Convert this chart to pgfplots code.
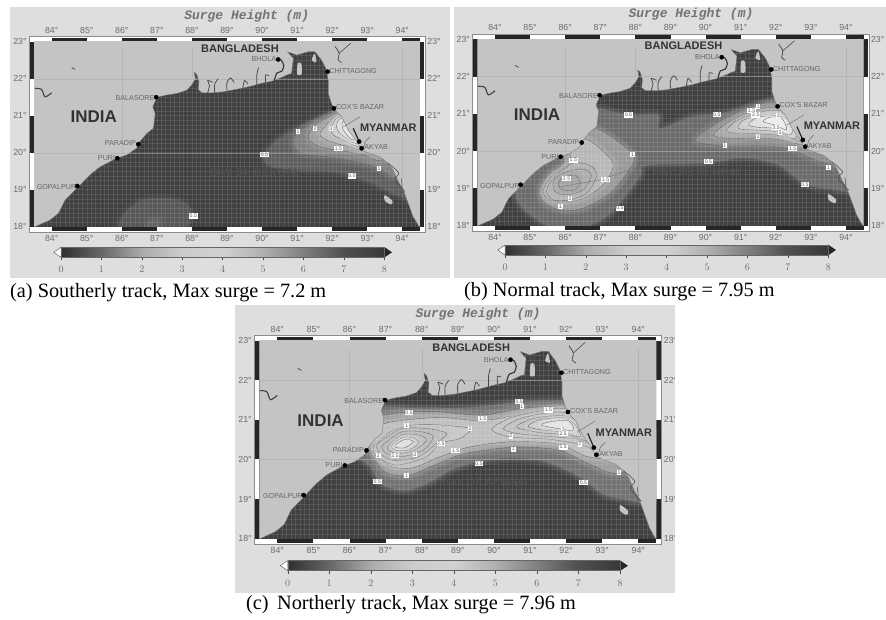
\documentclass[border=0pt]{standalone}
\usepackage{pgfplots}
\pgfplotsset{compat=1.18}
\usepackage{pgfplotstable}
\usepackage{fontspec}
\setmainfont{Liberation Sans}
\newfontfamily\capfont{Liberation Serif}
\newfontfamily\monof{Liberation Mono}
\definecolor{panelbg}{gray}{.87}
\definecolor{land}{gray}{.77}
\definecolor{sea}{gray}{.25}
\definecolor{ticktxt}{gray}{.42}
\definecolor{citytxt}{gray}{.40}
\pgfplotstableread{
x y
83.52 18.00
83.95 18.18
84.19 18.36
84.38 18.72
84.76 19.08
85.09 19.40
85.38 19.62
85.85 19.85
86.14 19.94
86.42 20.12
86.47 20.25
86.71 20.52
86.90 20.66
86.95 21.06
86.88 21.24
87.00 21.50
87.28 21.56
87.56 21.60
87.85 21.69
87.99 21.83
88.10 22.00
88.06 22.18
88.14 22.12
88.20 21.92
88.18 21.70
88.30 21.62
88.60 21.62
88.90 21.65
89.30 21.72
89.60 21.78
90.00 21.88
90.30 21.94
90.59 22.05
90.75 22.12
90.84 22.14
90.89 22.55
90.72 22.73
90.99 22.64
91.32 22.73
91.51 22.73
91.70 22.50
91.82 22.28
91.89 21.96
91.89 21.60
91.98 21.33
92.08 21.15
92.27 20.97
92.46 20.61
92.70 20.30
92.84 20.07
93.08 19.98
93.36 19.89
93.60 19.71
93.74 19.53
93.89 19.22
94.03 18.99
94.17 18.63
94.31 18.27
94.48 18.00
94.60 18.00
94.60 23.10
83.40 23.10
83.40 18.00
}\coast
\newcommand\band[2]{%
 \addplot[smooth cycle,draw=white!#1!black,line width=9pt,draw opacity=.22,line join=round] coordinates {#2};
 \addplot[smooth cycle,draw=white!#1!black,line width=4.5pt,draw opacity=.3,line join=round] coordinates {#2};
 \addplot[smooth cycle,fill=white!#1!black,draw=black!62,line width=.35pt] coordinates {#2};
}
\newcommand\lab[3]{\node[fill=white,inner sep=.7pt,font=\fontsize{5.2}{6}\selectfont,text=black!70] at (axis cs:#1,#2) {#3};}
\newcommand\city[4]{\node[anchor=#4,inner sep=.5pt,font=\fontsize{7.2}{8}\selectfont,text=citytxt] at (axis cs:#1,#2) {#3};}
\newcommand\inlet[1]{\addplot[black!72,line width=.75pt,smooth] coordinates {#1};}
\pgfplotsset{mapbase/.style={scale only axis,anchor=south west,xmin=83.5,xmax=94.5,ymin=18,ymax=23,
 xtick={84,...,94},ytick={18,...,23},
 xticklabel={\pgfmathparse{int(\tick)}\pgfmathresult\textdegree},
 yticklabel={\pgfmathparse{int(\tick)}\pgfmathresult\textdegree},
 tick style={draw=none},axis line style={draw=none},major tick length=0pt,
 tick label style={font=\fontsize{8.8}{9}\selectfont,text=ticktxt},
 xticklabel shift=5pt,yticklabel shift=4pt}}
\newcommand\common{%
 \pgfplotsinvokeforeach{83.625,83.75,...,94.5}{\draw[white,opacity=.10,line width=.45pt] (axis cs:##1,18)--(axis cs:##1,23);}
 \pgfplotsinvokeforeach{18.125,18.25,...,22.9}{\draw[white,opacity=.10,line width=.45pt] (axis cs:83.5,##1)--(axis cs:94.5,##1);}
 \node[font=\bfseries\fontsize{11}{12}\selectfont,text=white!31!black] at (axis cs:89.8,19.45) {BAY OF BENGAL};
 \addplot[fill=land,draw=black!55,line width=.3pt] table[x=x,y=y] {\coast} -- cycle;
 \addplot[fill=land,draw=none,smooth cycle] coordinates {(91.0,22.12)(91.13,22.12)(91.12,22.4)(91.02,22.42)};
 \addplot[fill=land,draw=none,smooth cycle] coordinates {(91.42,22.5)(91.55,22.45)(91.5,22.68)};
 \addplot[fill=land,draw=none,smooth cycle] coordinates {(93.5,18.85)(93.72,18.7)(93.68,18.6)(93.5,18.7)};
 % graticule
 \addplot[gray!65,line width=.25pt,opacity=.6] coordinates {(83.5,22)(94.5,22)};
 \addplot[gray!65,line width=.25pt,opacity=.6] coordinates {(83.5,20)(94.5,20)};
 \addplot[gray!65,line width=.25pt,opacity=.6] coordinates {(86,20)(86,22.8)};
 \addplot[gray!65,line width=.25pt,opacity=.6] coordinates {(88,22)(88,22.8)};
 \addplot[gray!65,line width=.25pt,opacity=.6] coordinates {(94,19)(94,22.8)};
 % inlets of the delta
 \inlet{(88.45,21.62)(88.5,21.82)(88.45,21.95)(88.6,21.9)}
 \inlet{(88.65,21.62)(88.65,21.85)(88.75,22)}
 \inlet{(89,21.68)(89,21.9)(89.1,22.02)(89.2,21.9)}
 \inlet{(89.45,21.74)(89.5,21.95)(89.6,21.85)}
 \inlet{(89.85,21.84)(89.85,22.1)(89.9,22.3)}
 \inlet{(90.1,21.9)(90.1,22.1)(90.2,22.08)}
 \addplot[black!80,line width=1.1pt,smooth] coordinates {(90.35,21.95)(90.42,22.15)(90.56,22.2)(90.62,22.35)(90.55,22.5)(90.46,22.52)};
 % rivers and lakes
 \addplot[black!75,line width=1.1pt,smooth] coordinates {(83.52,21.74)(83.71,21.71)(83.81,21.51)(84,21.62)};
 \addplot[black!75,line width=.7pt] coordinates {(84.57,22.3)(84.67,22.25)};
 \addplot[black!70,line width=.8pt,smooth] coordinates {(92.08,22.87)(92.2,22.69)(92.17,22.51)(92.27,22.44)};
 \addplot[black!70,line width=.6pt] coordinates {(92.2,22.69)(92.36,22.82)(92.53,22.96)};
 \addplot[black!60,line width=.4pt] coordinates {(92.32,20.7)(92.8,20.97)};
 \addplot[black!85,line width=1.2pt] coordinates {(92.6,20.66)(92.77,20.3)};
 \addplot[black!60,line width=.5pt,smooth] coordinates {(93.08,20.43)(92.95,20.3)(92.89,20.12)};
 \addplot[black!70,line width=.6pt,smooth] coordinates {(93.6,19.71)(93.9,19.45)(93.78,19.27)(94.08,18.95)};
 \addplot[black!70,line width=.5pt,smooth] coordinates {(93.97,19.3)(94.0,19.0)(93.95,18.85)};
 % towns
 \addplot[only marks,mark=*,mark size=2.1pt,black] coordinates {(90.46,22.52)(91.87,22.19)(92.05,21.2)(92.84,20.12)(92.77,20.3)(86.98,21.5)(86.47,20.23)(85.87,19.85)(84.73,19.1)};
 \city{86.95}{21.47}{BALASORE}{east}
 \city{86.42}{20.25}{PARADIP}{east}
 \city{85.83}{19.85}{PURI}{east}
 \city{84.72}{19.07}{GOPALPUR}{east}
 \city{90.42}{22.52}{BHOLA}{east}
 \city{91.9}{22.2}{CHITTAGONG}{west}
 \city{92.09}{21.23}{COX'S BAZAR}{west}
 \city{92.9}{20.14}{AKYAB}{west}
 \node[font=\bfseries\fontsize{11}{12}\selectfont,text=black!80] at (axis cs:89.37,22.82) {BANGLADESH};
 \node[font=\bfseries\fontsize{17}{18}\selectfont,text=black!80] at (axis cs:85.2,20.97) {INDIA};
 \node[font=\bfseries\fontsize{11}{12}\selectfont,text=black!80] at (axis cs:93.6,20.68) {MYANMAR};
}
\newcommand\drawmap[5]{%
 \begin{axis}[mapbase,at={(#1pt,#2pt)},width=#3pt,height=#4pt,xticklabel pos=lower,yticklabel pos=left,axis background/.style={fill=sea}]
 #5
 \common
 \end{axis}
 \begin{axis}[mapbase,at={(#1pt,#2pt)},width=#3pt,height=#4pt,xticklabel pos=upper,yticklabel pos=right]
 \addplot[draw=none] coordinates {(84,18)(94,23)};
 \end{axis}
}
% colour bar: left, bottom, width of 0..8, height
\newcommand\cbar[4]{%
 \begin{axis}[scale only axis,anchor=south west,at={(#1pt,#2pt)},width=#3pt,height=#4pt,xmin=0,xmax=8,ymin=0,ymax=1,view={0}{90},clip=false,
  xtick={0,...,8},ytick=\empty,xtick pos=lower,tick align=outside,major tick length=3pt,tick style={black!70,line width=.4pt},
  axis line style={black!60,line width=.4pt},
  tick label style={font=\fontsize{9.8}{10}\selectfont,text=ticktxt},xticklabel shift=2.5pt,
  colormap={gbar}{gray(0cm)=(.19); gray(1cm)=(.40); gray(2cm)=(.67); gray(3cm)=(.80); gray(4cm)=(.82); gray(5cm)=(.69); gray(6cm)=(.50); gray(7cm)=(.31); gray(8cm)=(.22)}]
 \addplot3[surf,shader=interp,point meta=x,mesh/rows=2] coordinates {(0,0,0)(1,0,0)(2,0,0)(3,0,0)(4,0,0)(5,0,0)(6,0,0)(7,0,0)(8,0,0)
  (0,1,0)(1,1,0)(2,1,0)(3,1,0)(4,1,0)(5,1,0)(6,1,0)(7,1,0)(8,1,0)};
 \addplot3[fill=white,draw=black!70,line width=.4pt] coordinates {(0,0,0)(-.18,.5,0)(0,1,0)} -- cycle;
 \addplot3[fill=black!85,draw=black!85] coordinates {(8,0,0)(8.18,.5,0)(8,1,0)} -- cycle;
 \end{axis}
}
% fancy frame: x84, px/deg lon, south, px/deg lat
\newcommand\mapframe[4]{%
 \pgfmathsetmacro\Fl{#1-.5*#2}\pgfmathsetmacro\Fr{#1+10.5*#2}\pgfmathsetmacro\Fb{#3}\pgfmathsetmacro\Ft{#3+5*#4}
 \fill[white] (\Fl-5.2,\Fb-5.2) rectangle (\Fr+5.2,\Ft+5.2);
 \draw[black!45,line width=.4pt] (\Fl-5.2,\Fb-5.2) rectangle (\Fr+5.2,\Ft+5.2);
 \foreach \k in {0,2,4,6,8,10}{%
  \pgfmathsetmacro\xa{#1+\k*#2}\pgfmathsetmacro\xb{#1+min(\k+1,10.5)*#2}
  \fill[black!85] (\xa,\Ft) rectangle (\xb,\Ft+4);
  \fill[black!85] (\xa,\Fb-4) rectangle (\xb,\Fb);}
 \foreach \k in {0,2,4}{%
  \pgfmathsetmacro\ya{#3+\k*#4}\pgfmathsetmacro\yb{#3+(\k+1)*#4}
  \fill[black!85] (\Fl-4.5,\ya) rectangle (\Fl,\yb);
  \fill[black!85] (\Fr,\ya) rectangle (\Fr+4.5,\yb);}
}
\newcommand\panelA{%
 \band{37}{(92.03,21.15)(91.46,20.88)(90.8,20.57)(90.32,20.25)(90.04,19.89)(90.27,19.62)(91.08,19.53)(92.03,19.49)(92.56,19.37)(93.17,19.17)(93.84,18.86)(94.6,18.86)(94.6,21.5)(92.5,21.5)}
 \band{50}{(92.03,21.02)(91.56,20.84)(91.03,20.57)(90.89,20.25)(91.13,19.98)(92.03,19.87)(92.89,19.71)(93.41,19.53)(93.84,19.35)(94.5,20)(93.2,21.3)}
 \band{62}{(92.08,21.02)(91.51,20.75)(91.32,20.39)(91.65,20.16)(92.18,20.07)(92.89,19.94)(93.4,19.8)(93.5,20.6)(92.8,21.2)}
 \band{72}{(92.08,20.97)(91.79,20.7)(91.65,20.48)(91.94,20.3)(92.5,20.16)(92.89,20.07)(93.2,20.4)(92.7,21.1)}
 \band{80}{(92.13,20.93)(91.98,20.66)(92.03,20.48)(92.41,20.3)(92.79,20.16)(93,20.5)(92.6,21)}
 \band{86}{(92.18,20.88)(92.13,20.66)(92.27,20.48)(92.7,20.25)(92.9,20.6)(92.5,20.95)}
 \band{90}{(92.32,20.84)(92.32,20.61)(92.6,20.34)(92.8,20.7)}
 \band{34}{(85.95,18)(86.19,18.45)(86.61,18.72)(87.28,18.77)(87.8,18.63)(87.99,18.36)(87.85,18)(87,17.6)}
 \band{40}{(86.71,18)(86.8,18.18)(87.09,18.23)(87.07,18)(86.9,17.85)}
 \lab{91.03}{20.57}{1}\lab{91.51}{20.66}{2}\lab{91.96}{20.66}{3}\lab{90.07}{19.94}{0.5}\lab{92.18}{20.12}{1.5}
 \lab{93.34}{19.58}{1}\lab{92.56}{19.37}{0.5}\lab{88.04}{18.29}{0.5}
}
\newcommand\panelB{%
 \band{42}{(86.94,21.15)(87.85,20.97)(88.65,20.97)(88.7,20.61)(89.56,20.92)(90.32,21)(91.07,21.15)(91.88,21.37)(92.2,21.37)(93.54,21.37)(94.49,19.05)(93.54,18.98)(92.78,19.14)(92.07,19.63)(91.07,19.81)(89.93,19.67)(88.32,19.61)(88.13,19.31)(87.56,18.6)(87.18,18.24)(86.52,17.95)(85.57,17.95)(84.62,18.69)(84.62,20.03)(85.57,21.37)}
 \band{60}{(86.85,20.62)(87.94,19.9)(87.75,19.41)(87.27,18.87)(86.51,18.47)(85.85,18.42)(85.37,18.65)(85.28,19)(85.56,19.41)(85.94,19.68)(85.94,20.39)}
 \band{72}{(86.66,20.3)(87.23,19.86)(87.37,19.59)(87.13,19.14)(86.61,18.77)(86.13,18.65)(85.56,18.69)(85.37,18.94)(85.66,19.36)(86.13,19.68)(86.13,20.3)}
 \band{71}{(86.23,19.68)(86.75,19.59)(86.89,19.32)(86.61,18.87)(86.13,18.69)(85.66,18.69)(85.47,18.92)(85.66,19.27)}
 \band{68}{(85.94,19.41)(86.47,19.52)(86.75,19.36)(86.51,18.96)(86.04,18.83)(85.71,18.92)(85.66,19.19)}
 \band{64}{(85.9,19.27)(86.28,19.36)(86.42,19.14)(86.28,18.96)(85.94,18.96)(85.8,19.1)}
 \addplot[black!60,line width=.35pt] coordinates {(85.9,19.05)(86.99,19.23)(87.84,19.5)};
 \band{55}{(89.7,20.28)(90.22,20.7)(90.84,21.01)(91.5,21.24)(92.02,21.33)(93.07,21.19)(94.02,19.67)(93.26,19.72)(92.4,20.05)(91.64,20.14)(90.55,20.14)}
 \band{65}{(90.22,20.43)(90.6,20.75)(91.17,21.01)(91.83,21.17)(92.88,21.1)(93.54,20.03)(92.78,20.16)(92.12,20.3)(91.5,20.36)(90.69,20.34)}
 \band{73}{(90.6,20.52)(90.84,20.79)(91.31,20.97)(91.93,21.1)(92.78,20.92)(93.07,20.12)(92.6,20.3)(92.02,20.43)(91.17,20.48)}
 \band{80}{(90.93,20.61)(91.07,20.83)(91.5,20.94)(91.98,21)(92.69,20.83)(92.55,20.34)(92.02,20.52)(91.36,20.57)}
 \band{87}{(91.22,20.7)(91.41,20.88)(91.74,20.94)(92.12,20.94)(92.5,20.75)(92.4,20.43)(91.93,20.61)(91.5,20.64)}
 \band{93}{(91.64,20.79)(91.83,20.91)(92.17,20.88)(92.31,20.57)(91.98,20.7)}
 \lab{87.8}{20.97}{0.5}\lab{90.32}{20.99}{0.5}\lab{87.92}{19.9}{1}\lab{86.23}{19.76}{1.5}\lab{86.04}{19.27}{2.5}
 \lab{87.15}{19.23}{1.5}\lab{86.14}{18.73}{2}\lab{85.87}{18.51}{1}\lab{87.56}{18.47}{0.5}\lab{90.08}{19.72}{0.5}
 \lab{90.55}{20.15}{1}\lab{92.83}{19.11}{0.5}\lab{93.5}{19.56}{1}\lab{92.48}{20.06}{1.5}\lab{91.5}{21.19}{1}
 \lab{91.31}{21.09}{1.5}\lab{91.43}{20.97}{2.5}\lab{92.07}{20.95}{3}\lab{92.01}{20.64}{3.5}\lab{92.12}{20.5}{3}\lab{91.5}{20.39}{2}
}
\newcommand\panelC{%
 \band{45}{(87.03,21.33)(88.09,21.29)(89.48,21.33)(90.68,21.46)(91.92,21.5)(92.71,21.5)(94.55,20.66)(94.55,18.98)(93.54,19)(92.98,19.14)(92.34,19.57)(91.41,19.94)(90.49,20.03)(89.57,19.94)(88.83,19.73)(88.18,19.4)(87.54,19.21)(86.89,19.36)(86.57,19.82)(86.06,20.24)(86.24,21.08)}
 \band{62}{(86.98,21.12)(88.28,21.21)(89.66,21.12)(90.77,21.29)(91.97,21.35)(92.71,21.25)(94.37,20.24)(93.45,19.65)(92.61,19.9)(91.78,20.24)(90.54,20.31)(89.2,20.15)(88.37,19.86)(87.58,19.59)(86.98,19.69)(86.66,20.07)(86.43,20.66)}
 \band{75}{(86.98,20.91)(88.46,21.06)(89.66,20.98)(90.86,21.15)(91.97,21.23)(92.71,21.08)(93.63,20.07)(92.61,20.07)(91.78,20.39)(90.49,20.45)(89.29,20.31)(88.46,20.05)(87.72,19.78)(87.17,19.82)(86.84,20.07)(86.61,20.49)}
 \band{78}{(86.85,20.49)(87.21,20.74)(87.77,20.87)(88.51,20.87)(89.34,20.78)(89.06,20.53)(88.51,20.41)(88.14,20.07)(87.31,19.86)(86.75,20.07)(86.66,20.32)}
 \band{75}{(86.98,20.53)(87.45,20.78)(88.14,20.78)(88.69,20.66)(88.41,20.41)(87.91,20.07)(87.21,19.98)(86.85,20.15)(86.75,20.36)}
 \band{73}{(87.03,20.45)(87.45,20.7)(88,20.7)(88.32,20.57)(88.05,20.24)(87.45,20.07)(87.03,20.15)(86.89,20.32)}
 \band{75}{(87.08,20.36)(87.45,20.62)(87.91,20.62)(88.14,20.49)(87.81,20.24)(87.35,20.15)(87.08,20.24)}
 \band{81}{(87.17,20.36)(87.49,20.56)(87.81,20.53)(87.91,20.41)(87.63,20.24)(87.26,20.24)}
 \band{88}{(87.26,20.36)(87.54,20.51)(87.77,20.45)(87.54,20.3)(87.31,20.3)}
 \band{78}{(89.94,20.76)(90.44,21.04)(91.18,21.21)(91.88,21.29)(92.66,21.08)(93.03,20.15)(92.48,20.36)(91.55,20.51)(90.46,20.57)}
 \band{76}{(90.26,20.78)(90.63,21)(91.27,21.15)(91.92,21.19)(92.57,20.95)(92.75,20.41)(92.2,20.53)(91.37,20.59)(90.63,20.66)}
 \band{76}{(90.63,20.81)(90.91,20.98)(91.37,21.08)(91.97,21.1)(92.38,20.91)(92.57,20.49)(92.01,20.62)(91.27,20.68)}
 \band{80}{(90.95,20.83)(91.18,20.98)(91.55,21.04)(92.01,21.04)(92.29,20.83)(92.38,20.57)(91.88,20.7)(91.37,20.74)}
 \band{90}{(91.32,20.87)(91.55,20.95)(92.06,20.98)(92.2,20.74)(91.78,20.78)}
 \lab{87.65}{21.18}{0.5}\lab{87.58}{20.85}{1}\lab{89.34}{20.79}{2}\lab{89.69}{21.04}{1.5}\lab{90.7}{21.46}{0.5}\lab{90.77}{21.33}{1}
 \lab{91.51}{21.25}{1.5}\lab{90.47}{20.59}{2}\lab{88.94}{20.22}{1.5}\lab{88.53}{20.41}{2.5}\lab{87.58}{19.59}{1}\lab{86.77}{19.44}{0.5}
 \lab{86.8}{20.1}{2}\lab{87.26}{20.1}{2.5}\lab{87.81}{20.13}{3}\lab{89.59}{19.89}{0.5}\lab{90.54}{20.26}{1}\lab{91.92}{20.31}{1.5}
 \lab{92.48}{19.42}{0.5}\lab{93.47}{19.67}{1}\lab{91.92}{20.76}{3}\lab{91.92}{20.66}{2.5}\lab{92.38}{20.39}{2}
}
\begin{document}
\begin{tikzpicture}[x=1pt,y=1pt]
\path[use as bounding box] (0,0) rectangle (886,620);
\fill[panelbg] (10,342) rectangle (450,613);
\fill[panelbg] (454,342) rectangle (886,613);
\fill[panelbg] (235,27) rectangle (675,315);
\node[font=\monof\bfseries\itshape\fontsize{13}{14}\selectfont,text=black!55] at (246.7,604) {Surge Height (m)};
\node[font=\monof\bfseries\itshape\fontsize{13}{14}\selectfont,text=black!55] at (691,606) {Surge Height (m)};
\node[font=\monof\bfseries\itshape\fontsize{13}{14}\selectfont,text=black!55] at (478,306) {Surge Height (m)};
\mapframe{51.7}{35.06}{393.3}{37}
\mapframe{495}{35.1}{394.3}{37.28}
\mapframe{277.3}{36.1}{81.3}{39.6}
\drawmap{34.17}{393.3}{385.66}{185}{\panelA}
\drawmap{477.45}{394.3}{386.1}{186.4}{\panelB}
\drawmap{259.25}{81.3}{397.1}{198}{\panelC}
\cbar{61}{362.7}{323.3}{10}
\cbar{505}{365}{323.3}{10}
\cbar{287.7}{49.3}{332.3}{10}
\fill[white] (675,27) rectangle (700,330);
\node[anchor=west,font=\capfont\fontsize{20.3}{21}\selectfont,inner sep=0pt] at (10,327) {(a) Southerly track, Max surge = 7.2 m};
\node[anchor=west,font=\capfont\fontsize{20.3}{21}\selectfont,inner sep=0pt] at (464,328) {(b) Normal track, Max surge = 7.95 m};
\node[anchor=west,font=\capfont\fontsize{20.3}{21}\selectfont,inner sep=0pt] at (246,15) {(c)\, Northerly track, Max surge = 7.96 m};
\end{tikzpicture}
\end{document}
